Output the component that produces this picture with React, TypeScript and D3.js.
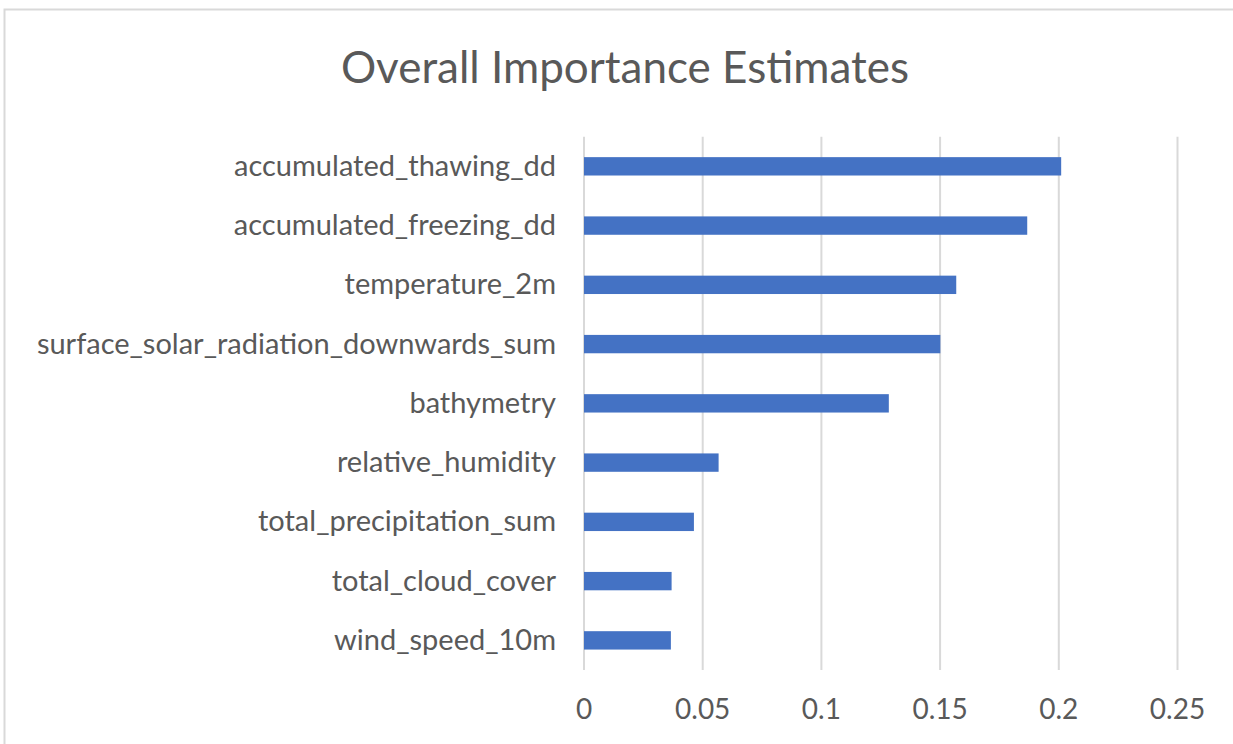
import React from "react";
import * as d3 from "d3";

// Feature names, top to bottom
const features: string[] = [
  "accumulated_thawing_dd",
  "accumulated_freezing_dd",
  "temperature_2m",
  "surface_solar_radiation_downwards_sum",
  "bathymetry",
  "relative_humidity",
  "total_precipitation_sum",
  "total_cloud_cover",
  "wind_speed_10m",
];

// Importance estimate for each feature
const importance: number[] = [0.201, 0.1867, 0.1568, 0.1501, 0.1284, 0.0567, 0.0463, 0.0369, 0.0366];

// Value-axis ticks
const xTicks: number[] = [0, 0.05, 0.1, 0.15, 0.2, 0.25];

const chartTitle = "Overall Importance Estimates";

const W = 1233;
const H = 744;
const FONT = "Lato, 'Open Sans', sans-serif";
const TEXT = "#595959";
const GRID = "#d9d9d9";
const BAR = "#4472C4";

export default function App() {
  const plotLeft = 584;
  const plotRight = 1177.5;
  const plotTop = 136.7;
  const plotBottom = 670;

  const x = d3.scaleLinear().domain([0, 0.25]).range([plotLeft, plotRight]);
  const y = d3
    .scaleBand<string>()
    .domain(features)
    .range([plotTop, plotBottom])
    .paddingInner(0.69)
    .paddingOuter(0.345);

  const data = features.map((f, i) => ({ name: f, value: importance[i] }));

  return (
    <svg
      width={W}
      height={H}
      style={{ position: "absolute", left: 0, top: 0, display: "block", background: "#fff" }}
    >
      <rect x={0} y={0} width={W} height={H} fill="#fff" />
      {/* chart frame */}
      <rect x={4.5} y={9.5} width={W + 50} height={H + 50} fill="none" stroke={GRID} strokeWidth={2} />

      <text
        x={625}
        y={66}
        textAnchor="middle"
        dominantBaseline="central"
        fontFamily={FONT}
        fontSize={44}
        fill={TEXT}
      >
        {chartTitle}
      </text>

      {/* vertical gridlines */}
      {xTicks.map((t) => (
        <line
          key={"g" + t}
          x1={x(t)}
          x2={x(t)}
          y1={plotTop}
          y2={plotBottom}
          stroke={GRID}
          strokeWidth={2}
        />
      ))}

      {/* bars */}
      {data.map((d) => (
        <rect
          key={d.name}
          x={x(0)}
          y={y(d.name)!}
          width={x(d.value) - x(0)}
          height={y.bandwidth()}
          fill={BAR}
        />
      ))}

      {/* category labels */}
      {data.map((d) => (
        <text
          key={"l" + d.name}
          x={556}
          y={y(d.name)! + y.bandwidth() / 2 - 2}
          textAnchor="end"
          dominantBaseline="central"
          fontFamily={FONT}
          fontSize={29}
          fill={TEXT}
        >
          {d.name}
        </text>
      ))}

      {/* tick labels */}
      {xTicks.map((t) => (
        <text
          key={"t" + t}
          x={x(t)}
          y={708}
          textAnchor="middle"
          dominantBaseline="central"
          fontFamily={FONT}
          fontSize={28}
          fill={TEXT}
        >
          {String(t)}
        </text>
      ))}
    </svg>
  );
}
